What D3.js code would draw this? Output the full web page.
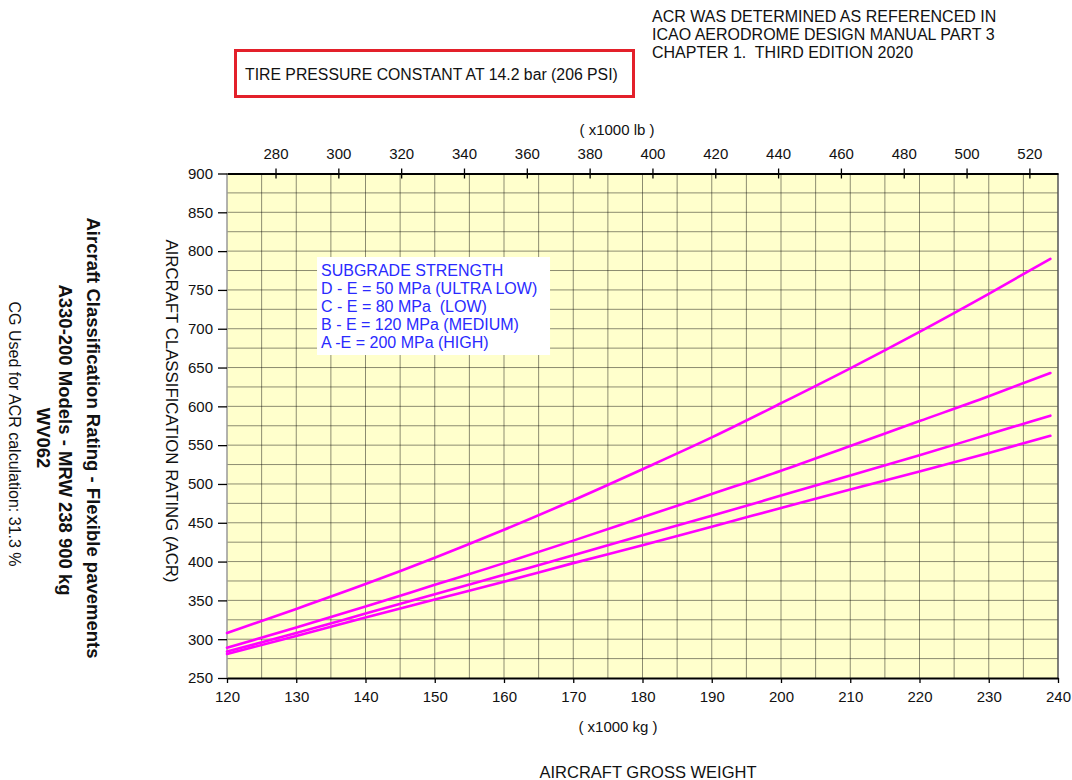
<!DOCTYPE html>
<html>
<head>
<meta charset="utf-8">
<script src="https://cdn.jsdelivr.net/npm/d3@7"></script>
<style>
  body { margin: 0; background: #fff; }
  svg text { font-family: "Liberation Sans", Arial, sans-serif; }
</style>
</head>
<body>
<svg id="chart" width="1072" height="780"></svg>
<script>
// values, every 10 000 kg up to the MRW
var weightKg = [120, 130, 140, 150, 160, 170, 180, 190, 200, 210, 220, 230, 238.9];
var acrUltraLow = [308, 339, 371, 405, 441, 479, 519, 560, 604, 649, 696, 745, 790];
var acrLow      = [289, 315, 342, 370, 398, 427, 457, 487, 517, 549, 581, 613, 643];
var acrMedium   = [284, 308, 333, 358, 383, 408, 434, 459, 485, 511, 537, 564, 588];
var acrHigh     = [281, 304, 328, 351, 374, 398, 421, 445, 469, 493, 516, 540, 562];

var kgTicks = [120, 130, 140, 150, 160, 170, 180, 190, 200, 210, 220, 230, 240];
var lbTicks = [280, 300, 320, 340, 360, 380, 400, 420, 440, 460, 480, 500, 520];
var acrTicks = [250, 300, 350, 400, 450, 500, 550, 600, 650, 700, 750, 800, 850, 900];

var legendLines = [
  "SUBGRADE STRENGTH",
  "D - E = 50 MPa (ULTRA LOW)",
  "C - E = 80 MPa  (LOW)",
  "B - E = 120 MPa (MEDIUM)",
  "A -E = 200 MPa (HIGH)"
];
var noteLines = [
  "ACR WAS DETERMINED AS REFERENCED IN",
  "ICAO AERODROME DESIGN MANUAL PART 3",
  "CHAPTER 1.  THIRD EDITION 2020"
];
var sideTitles = [
  {text: "Aircraft Classification Rating - Flexible pavements", x: 87, y: 438, bold: true},
  {text: "A330-200 Models - MRW 238 900 kg", x: 59, y: 440, bold: true},
  {text: "WV062", x: 37, y: 438, bold: true},
  {text: "CG Used for ACR calculation: 31.3 %", x: 9, y: 434, bold: false}
];

var LB_PER_KG = 2.20462;
var plot = {left: 227, right: 1058, top: 173.5, bottom: 678};

var svg = d3.select("#chart");

var x = d3.scaleLinear().domain([120, 240]).range([plot.left, plot.right]);
var xLb = d3.scaleLinear().domain([120 * LB_PER_KG, 240 * LB_PER_KG]).range([plot.left, plot.right]);
var y = d3.scaleLinear().domain([250, 900]).range([plot.bottom, plot.top]);

// plot background
svg.append("rect")
    .attr("x", plot.left).attr("y", plot.top)
    .attr("width", plot.right - plot.left).attr("height", plot.bottom - plot.top)
    .attr("fill", "#ffffcc");

// grid, every 5 t and every 25 ACR
var grid = svg.append("g").attr("stroke", "#000").attr("stroke-opacity", 0.45).attr("stroke-width", 1);
grid.selectAll(".gx")
    .data(d3.range(125, 240, 5))
  .enter().append("line")
    .attr("x1", function(d) { return x(d); }).attr("x2", function(d) { return x(d); })
    .attr("y1", plot.top).attr("y2", plot.bottom);
grid.selectAll(".gy")
    .data(d3.range(275, 900, 25))
  .enter().append("line")
    .attr("x1", plot.left).attr("x2", plot.right)
    .attr("y1", function(d) { return y(d); }).attr("y2", function(d) { return y(d); });

// left and right plot borders
svg.append("line").attr("x1", plot.left).attr("x2", plot.left)
    .attr("y1", plot.top).attr("y2", plot.bottom)
    .attr("stroke", "#999").attr("stroke-width", 1.5);
svg.append("line").attr("x1", plot.right).attr("x2", plot.right)
    .attr("y1", plot.top).attr("y2", plot.bottom)
    .attr("stroke", "#555").attr("stroke-width", 1.5);

// axes
var bottomAxis = svg.append("g")
    .attr("transform", "translate(0," + plot.bottom + ")")
    .call(d3.axisBottom(x).tickValues(kgTicks).tickSize(5).tickPadding(8).tickSizeOuter(0));
var topAxis = svg.append("g")
    .attr("transform", "translate(0," + plot.top + ")")
    .call(d3.axisTop(xLb).tickValues(lbTicks).tickSize(5).tickPadding(10).tickSizeOuter(0));
topAxis.selectAll(".tick line").attr("y1", 5);
var leftAxis = svg.append("g")
    .attr("transform", "translate(" + plot.left + ",0)")
    .call(d3.axisLeft(y).tickValues(acrTicks).tickSize(9).tickPadding(5).tickSizeOuter(0));
leftAxis.select(".domain").remove();

[bottomAxis, topAxis].forEach(function(a) {
  a.select(".domain").attr("stroke-width", 2.2).attr("stroke", "#000");
});
[bottomAxis, topAxis, leftAxis].forEach(function(a) {
  a.selectAll(".tick line").attr("stroke", "#000").attr("stroke-width", 1.3);
  a.selectAll(".tick text")
      .attr("font-family", "Liberation Sans, Arial, sans-serif")
      .attr("font-size", 15).attr("fill", "#111");
});

// curves
var line = d3.line()
    .x(function(d) { return x(d[0]); })
    .y(function(d) { return y(d[1]); })
    .curve(d3.curveMonotoneX);
[acrUltraLow, acrLow, acrMedium, acrHigh].forEach(function(series) {
  svg.append("path")
      .datum(d3.zip(weightKg, series))
      .attr("d", line)
      .attr("fill", "none")
      .attr("stroke", "#ff00ff")
      .attr("stroke-width", 2.6)
      .attr("stroke-linecap", "round");
});

// legend
var legend = svg.append("g").attr("transform", "translate(" + x(133) + "," + y(792.4) + ")");
legend.append("rect")
    .attr("x", 0).attr("y", 0).attr("width", 233).attr("height", 98)
    .attr("fill", "#fff");
legend.selectAll("text")
    .data(legendLines)
  .enter().append("text")
    .attr("x", 4)
    .attr("y", function(d, i) { return 19 + i * 18; })
    .attr("font-size", 16)
    .attr("fill", "#2a2aff")
    .attr("xml:space", "preserve")
    .text(function(d) { return d; });

// axis titles
svg.append("text")
    .attr("x", 617).attr("y", 135)
    .attr("text-anchor", "middle").attr("font-size", 15).attr("fill", "#111")
    .text("( x1000 lb )");
svg.append("text")
    .attr("x", 618).attr("y", 732)
    .attr("text-anchor", "middle").attr("font-size", 15).attr("fill", "#111")
    .text("( x1000 kg )");
svg.append("text")
    .attr("x", 648).attr("y", 778)
    .attr("text-anchor", "middle").attr("font-size", 16.5).attr("fill", "#111")
    .text("AIRCRAFT GROSS WEIGHT");
svg.append("text")
    .attr("transform", "translate(166,411) rotate(90)")
    .attr("text-anchor", "middle").attr("font-size", 16.8).attr("fill", "#111")
    .text("AIRCRAFT CLASSIFICATION RATING (ACR)");

// rotated side titles
svg.selectAll(".side")
    .data(sideTitles)
  .enter().append("text")
    .attr("transform", function(d) { return "translate(" + d.x + "," + d.y + ") rotate(90)"; })
    .attr("text-anchor", "middle")
    .attr("font-size", function(d) { return d.bold ? 18.5 : 16; })
    .attr("font-weight", function(d) { return d.bold ? "bold" : "normal"; })
    .attr("fill", "#111")
    .text(function(d) { return d.text; });

// notes at the top
svg.selectAll(".note")
    .data(noteLines)
  .enter().append("text")
    .attr("x", 652)
    .attr("y", function(d, i) { return 22 + i * 18; })
    .attr("font-size", 16)
    .attr("fill", "#111")
    .attr("xml:space", "preserve")
    .text(function(d) { return d; });

svg.append("rect")
    .attr("x", 235.5).attr("y", 50.5).attr("width", 398).attr("height", 46)
    .attr("fill", "#fff").attr("stroke", "#e3202a").attr("stroke-width", 3);
svg.append("text")
    .attr("x", 245).attr("y", 80)
    .attr("font-size", 15.8).attr("fill", "#111")
    .text("TIRE PRESSURE CONSTANT AT 14.2 bar (206 PSI)");
</script>
</body>
</html>
